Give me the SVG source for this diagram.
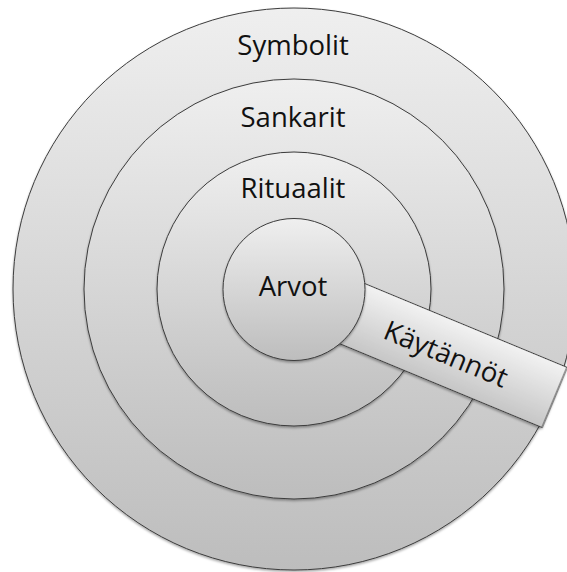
<svg xmlns="http://www.w3.org/2000/svg" width="567" height="572" viewBox="0 0 567 572">
  <defs>
    <!-- shared vertical shading for every ring -->
    <linearGradient id="ringFill" x1="0" y1="0" x2="0" y2="1">
      <stop offset="0" stop-color="#efefef"/>
      <stop offset="1" stop-color="#bdbdbd"/>
    </linearGradient>
    <!-- shading across the width of the practices bar -->
    <linearGradient id="barFill" x1="0" y1="0" x2="0" y2="1">
      <stop offset="0" stop-color="#f2f2f2"/>
      <stop offset="1" stop-color="#c6c6c6"/>
    </linearGradient>
    <filter id="softShadow" x="-10%" y="-10%" width="120%" height="125%">
      <feDropShadow dx="0" dy="1.5" stdDeviation="1.2" flood-color="#000" flood-opacity="0.35"/>
    </filter>
  </defs>
  <style>
    .ring { fill: url(#ringFill); stroke: #3c3c3c; stroke-width: 1; filter: url(#softShadow); }
    .bar { fill: url(#barFill); stroke: #3c3c3c; stroke-width: 1; filter: url(#softShadow); }
    .label { font-family: "Open Sans", "Noto Sans", "Liberation Sans", sans-serif; font-size: 27.5px; fill: #111; text-anchor: middle; }
  </style>

  <rect width="567" height="572" fill="#ffffff"/>

  <g id="symbolit">
    <circle class="ring" cx="294" cy="289" r="281"/>
    <text class="label" x="293" y="55">Symbolit</text>
  </g>

  <g id="sankarit">
    <circle class="ring" cx="294" cy="289" r="210"/>
    <text class="label" x="293" y="127">Sankarit</text>
  </g>

  <g id="rituaalit">
    <circle class="ring" cx="294" cy="289" r="137"/>
    <text class="label" x="293" y="198">Rituaalit</text>
  </g>

  <g id="kaytannot" transform="translate(294 289.5) rotate(22.5)">
    <rect class="bar" x="40" y="-32.5" width="242" height="65"/>
    <text class="label" x="165" y="11">Käytännöt</text>
  </g>

  <g id="arvot">
    <circle class="ring" cx="294" cy="289.5" r="71"/>
    <text class="label" x="293" y="296">Arvot</text>
  </g>
</svg>
